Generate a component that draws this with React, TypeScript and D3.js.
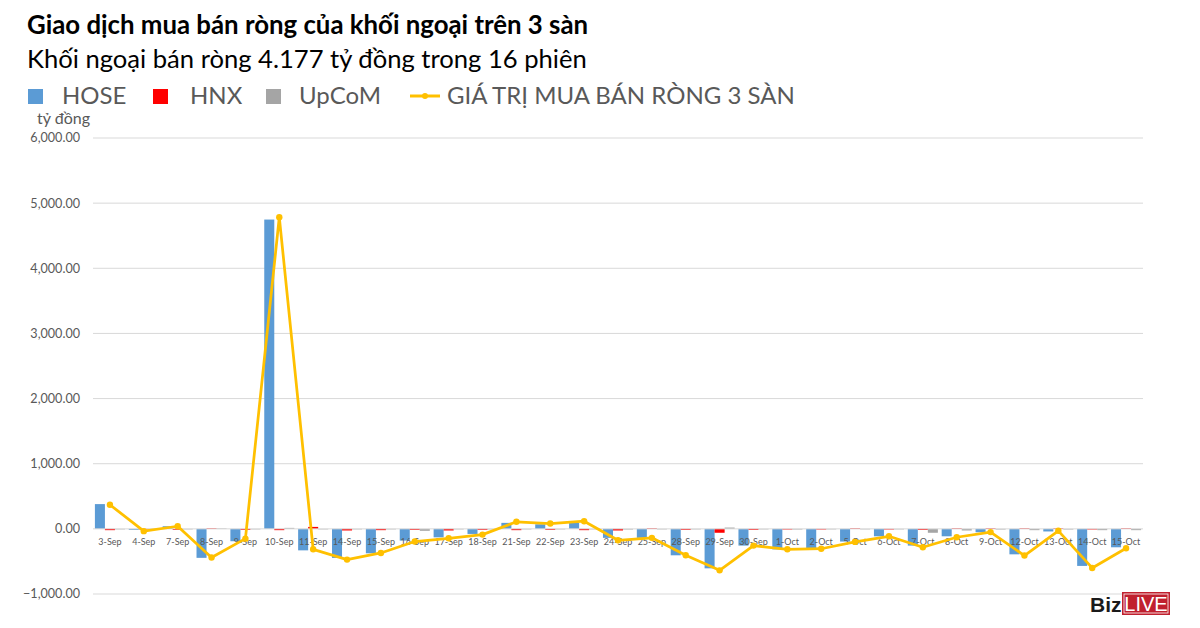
import * as d3 from 'd3';

const CATS = [
  '3-Sep', '4-Sep', '7-Sep', '8-Sep', '9-Sep', '10-Sep', '11-Sep', '14-Sep', '15-Sep', '16-Sep',
  '17-Sep', '18-Sep', '21-Sep', '22-Sep', '23-Sep', '24-Sep', '25-Sep', '28-Sep', '29-Sep', '30-Sep',
  '1-Oct', '2-Oct', '5-Oct', '6-Oct', '7-Oct', '8-Oct', '9-Oct', '12-Oct', '13-Oct', '14-Oct', '15-Oct',
];
const HOSE = [
  380, -15, 40, -445, -190, 4748, -330, -446, -375, -180,
  -130, -78, 92, 70, 92, -138, -138, -406, -606, -257,
  -315, -308, -195, -114, -257, -114, -52, -391, -40, -569, -283,
];
const HNX = [
  -20, -5, -15, 10, -15, -20, 30, -25, -20, -15,
  -25, -15, -20, -15, -20, -25, 10, -15, -60, -15,
  -10, -10, 10, -10, -15, 10, 10, 10, 10, -10, 10,
];
const UPCOM = [
  -5, -5, -5, 5, -5, 15, -5, -5, -5, -30,
  -5, -5, -5, -5, -5, -10, -5, -5, 20, -5,
  -10, -5, -5, -5, -60, -25, -10, -20, -10, -20, -20,
];
const TOTAL = [
  370, -35, 40, -440, -150, 4785, -314, -472, -370, -195,
  -145, -88, 108, 82, 117, -175, -138, -406, -637, -257,
  -314, -305, -200, -114, -283, -129, -50, -410, -30, -600, -298,
];
const Y_TICKS = [-1000, 0, 1000, 2000, 3000, 4000, 5000, 6000];
const SERIES = ['HOSE', 'HNX', 'UpCoM'];
const LINE_NAME = 'GIÁ TRỊ MUA BÁN RÒNG 3 SÀN';

const COLORS: Record<string, string> = { HOSE: '#5B9BD5', HNX: '#FF0000', UpCoM: '#A5A5A5' };
const LINE_COLOR = '#FFC000';
const FONT = 'Lato, "Open Sans", sans-serif';
const TEXT = '#595959';

const W = 1200;
const H = 628;
const M = { left: 93, right: 57, top: 138, bottom: 34 };

export default function App() {
  const x = d3.scaleBand<string>().domain(CATS).range([M.left, W - M.right]).paddingInner(0);
  const xs = d3.scaleBand<string>().domain(SERIES).range([0, x.bandwidth()]).paddingOuter(0.19).paddingInner(0);
  const y = d3.scaleLinear().domain([-1000, 6000]).range([H - M.bottom, M.top]);
  const fmt = d3.format(',.2f');
  const values: Record<string, number[]> = { HOSE, HNX, UpCoM: UPCOM };
  const cx = (i: number) => x(CATS[i])! + x.bandwidth() / 2;

  const line = d3
    .line<number>()
    .x((_, i) => cx(i))
    .y((d) => y(d));

  const legend = [
    { key: 'HOSE', x: 28, tx: 62 },
    { key: 'HNX', x: 153, tx: 190 },
    { key: 'UpCoM', x: 266, tx: 299 },
  ];

  return (
    <svg width={W} height={H} style={{ position: 'absolute', left: 0, top: 0, background: '#fff' }} fontFamily={FONT}>
      <rect width={W} height={H} fill="#fff" />
      <text x={27} y={34} fontSize={25.8} fontWeight={700} fill="#000">
        Giao dịch mua bán ròng của khối ngoại trên 3 sàn
      </text>
      <text x={27} y={68} fontSize={25.6} fill="#000">
        Khối ngoại bán ròng 4.177 tỷ đồng trong 16 phiên
      </text>

      {legend.map((l) => (
        <g key={l.key}>
          <rect x={l.x} y={89} width={15} height={15} fill={COLORS[l.key]} />
          <text x={l.tx} y={104} fontSize={24} fill={TEXT}>
            {l.key}
          </text>
        </g>
      ))}
      <line x1={410} x2={440} y1={96} y2={96} stroke={LINE_COLOR} strokeWidth={3} />
      <circle cx={425} cy={96} r={3} fill={LINE_COLOR} />
      <text x={447} y={104} fontSize={24} fill={TEXT}>
        {LINE_NAME}
      </text>

      <text x={37} y={124} fontSize={16} fill={TEXT}>
        tỷ đồng
      </text>

      {Y_TICKS.map((t) => (
        <g key={t}>
          {t !== 0 && (
            <line x1={M.left} x2={W - M.right} y1={y(t)} y2={y(t)} stroke="#D9D9D9" strokeWidth={1} />
          )}
          <text x={80} y={y(t)} dy="0.35em" textAnchor="end" fontSize={12.6} fill={TEXT}>
            {fmt(t)}
          </text>
        </g>
      ))}

      {CATS.map((c, i) => (
        <g key={c}>
          {SERIES.map((s) => {
            const v = values[s][i];
            const y0 = y(Math.max(0, v));
            const y1 = y(Math.min(0, v));
            return (
              <rect
                key={s}
                x={x(c)! + xs(s)!}
                y={y0}
                width={xs.bandwidth()}
                height={Math.max(0.5, y1 - y0)}
                fill={COLORS[s]}
              />
            );
          })}
        </g>
      ))}

      <line x1={M.left} x2={W - M.right} y1={y(0)} y2={y(0)} stroke="#D9D9D9" strokeWidth={1} />

      {CATS.map((c, i) => (
        <text key={c} x={cx(i)} y={y(0) + 16} textAnchor="middle" fontSize={9} fill={TEXT}>
          {c}
        </text>
      ))}

      <path d={line(TOTAL) ?? ''} fill="none" stroke={LINE_COLOR} strokeWidth={2.75} strokeLinejoin="round" />
      {TOTAL.map((v, i) => (
        <circle key={i} cx={cx(i)} cy={y(v)} r={3.2} fill={LINE_COLOR} />
      ))}

      <g fontFamily="'Liberation Sans', Arial, sans-serif">
        <text x={1090} y={612} fontSize={21} fontWeight={700} fill="#1a1a1a">
          Biz
        </text>
        <rect x={1122} y={592} width={48} height={23} fill="#C0202E" />
        <rect x={1124} y={594} width={44} height={19} fill="none" stroke="#fff" strokeWidth={0.8} />
        <text x={1146} y={611} fontSize={20} textAnchor="middle" fill="#fff">
          LIVE
        </text>
      </g>
    </svg>
  );
}
